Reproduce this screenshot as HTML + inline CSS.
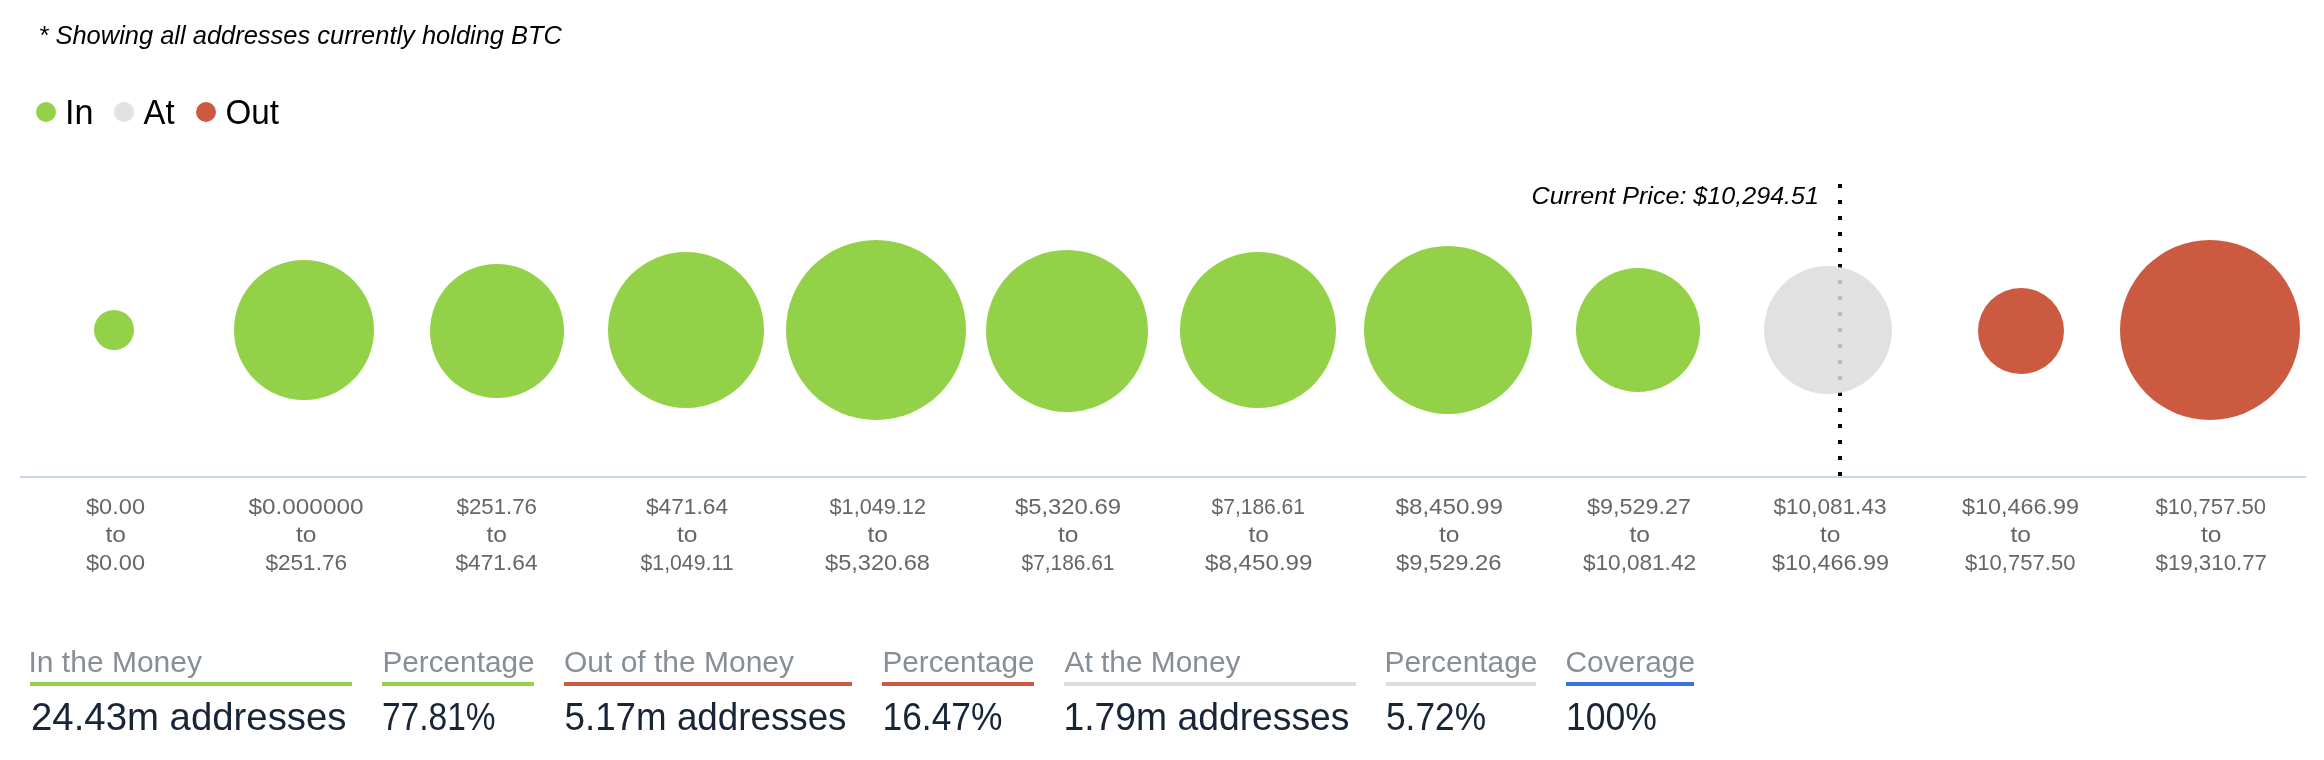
<!DOCTYPE html><html><head><meta charset="utf-8"><title>BTC In/Out of the Money</title><style>html,body{margin:0;padding:0;background:#fff;width:2324px;height:760px;overflow:hidden}svg{display:block;will-change:transform}text{font-family:"Liberation Sans",Arial,sans-serif}</style></head><body>
<svg width="2324" height="760" viewBox="0 0 2324 760">
<circle cx="46" cy="112" r="10" fill="#93d149"/><circle cx="124" cy="112" r="10" fill="#e2e2e2"/><circle cx="206" cy="112" r="10" fill="#cb5a41"/>
<rect x="20" y="476" width="2286" height="2" fill="#ccd6eb"/>
<g fill="#000"><rect x="1838" y="184" width="4" height="4"/><rect x="1838" y="200" width="4" height="4"/><rect x="1838" y="216" width="4" height="4"/><rect x="1838" y="232" width="4" height="4"/><rect x="1838" y="248" width="4" height="4"/><rect x="1838" y="264" width="4" height="4"/><rect x="1838" y="280" width="4" height="4"/><rect x="1838" y="296" width="4" height="4"/><rect x="1838" y="312" width="4" height="4"/><rect x="1838" y="328" width="4" height="4"/><rect x="1838" y="344" width="4" height="4"/><rect x="1838" y="360" width="4" height="4"/><rect x="1838" y="376" width="4" height="4"/><rect x="1838" y="392" width="4" height="4"/><rect x="1838" y="408" width="4" height="4"/><rect x="1838" y="424" width="4" height="4"/><rect x="1838" y="440" width="4" height="4"/><rect x="1838" y="456" width="4" height="4"/><rect x="1838" y="472" width="4" height="4"/></g>
<circle cx="114" cy="330" r="20" fill="#93d149"/>
<circle cx="304" cy="330" r="70" fill="#93d149"/>
<circle cx="497" cy="331" r="67" fill="#93d149"/>
<circle cx="686" cy="330" r="78" fill="#93d149"/>
<circle cx="876" cy="330" r="90" fill="#93d149"/>
<circle cx="1067" cy="331" r="81" fill="#93d149"/>
<circle cx="1258" cy="330" r="78" fill="#93d149"/>
<circle cx="1448" cy="330" r="84" fill="#93d149"/>
<circle cx="1638" cy="330" r="62" fill="#93d149"/>
<circle cx="1828" cy="330" r="64" fill="#dcdcdc" fill-opacity="0.85"/>
<circle cx="2021" cy="331" r="43" fill="#cb5a41"/>
<circle cx="2210" cy="330" r="90" fill="#cb5a41"/>
<rect x="30" y="682" width="322" height="4" fill="#93d149"/>
<rect x="382" y="682" width="152" height="4" fill="#93d149"/>
<rect x="564" y="682" width="288" height="4" fill="#cb5a41"/>
<rect x="882" y="682" width="152" height="4" fill="#cb5a41"/>
<rect x="1064" y="682" width="292" height="4" fill="#dddddd"/>
<rect x="1386" y="682" width="150" height="4" fill="#dddddd"/>
<rect x="1566" y="682" width="128" height="4" fill="#3a72e4"/>
<text x="38.50" y="43.8" font-size="25.7" fill="#000" font-style="italic" textLength="523.50" lengthAdjust="spacingAndGlyphs">* Showing all addresses currently holding BTC</text>
<text x="65.00" y="123.9" font-size="34.3" fill="#000" textLength="28.50" lengthAdjust="spacingAndGlyphs">In</text>
<text x="143.50" y="123.9" font-size="34.3" fill="#000" textLength="31.00" lengthAdjust="spacingAndGlyphs">At</text>
<text x="225.50" y="123.9" font-size="34.3" fill="#000" textLength="53.50" lengthAdjust="spacingAndGlyphs">Out</text>
<text x="1531.50" y="203.7" font-size="24.7" fill="#000" font-style="italic" textLength="287.50" lengthAdjust="spacingAndGlyphs">Current Price: $10,294.51</text>
<text x="86.00" y="514" font-size="22.6" fill="#666666" textLength="59.00" lengthAdjust="spacingAndGlyphs">$0.00</text>
<text x="105.50" y="542" font-size="22.6" fill="#666666" textLength="20.50" lengthAdjust="spacingAndGlyphs">to</text>
<text x="86.00" y="570" font-size="22.6" fill="#666666" textLength="59.00" lengthAdjust="spacingAndGlyphs">$0.00</text>
<text x="248.50" y="514" font-size="22.6" fill="#666666" textLength="115.00" lengthAdjust="spacingAndGlyphs">$0.000000</text>
<text x="296.00" y="542" font-size="22.6" fill="#666666" textLength="20.50" lengthAdjust="spacingAndGlyphs">to</text>
<text x="265.50" y="570" font-size="22.6" fill="#666666" textLength="81.50" lengthAdjust="spacingAndGlyphs">$251.76</text>
<text x="456.50" y="514" font-size="22.6" fill="#666666" textLength="80.50" lengthAdjust="spacingAndGlyphs">$251.76</text>
<text x="486.50" y="542" font-size="22.6" fill="#666666" textLength="20.50" lengthAdjust="spacingAndGlyphs">to</text>
<text x="455.50" y="570" font-size="22.6" fill="#666666" textLength="82.00" lengthAdjust="spacingAndGlyphs">$471.64</text>
<text x="646.00" y="514" font-size="22.6" fill="#666666" textLength="82.00" lengthAdjust="spacingAndGlyphs">$471.64</text>
<text x="677.00" y="542" font-size="22.6" fill="#666666" textLength="20.50" lengthAdjust="spacingAndGlyphs">to</text>
<text x="640.50" y="570" font-size="22.6" fill="#666666" textLength="93.00" lengthAdjust="spacingAndGlyphs">$1,049.11</text>
<text x="829.50" y="514" font-size="22.6" fill="#666666" textLength="96.50" lengthAdjust="spacingAndGlyphs">$1,049.12</text>
<text x="867.50" y="542" font-size="22.6" fill="#666666" textLength="20.50" lengthAdjust="spacingAndGlyphs">to</text>
<text x="825.00" y="570" font-size="22.6" fill="#666666" textLength="105.00" lengthAdjust="spacingAndGlyphs">$5,320.68</text>
<text x="1015.00" y="514" font-size="22.6" fill="#666666" textLength="106.00" lengthAdjust="spacingAndGlyphs">$5,320.69</text>
<text x="1058.00" y="542" font-size="22.6" fill="#666666" textLength="20.50" lengthAdjust="spacingAndGlyphs">to</text>
<text x="1021.50" y="570" font-size="22.6" fill="#666666" textLength="93.00" lengthAdjust="spacingAndGlyphs">$7,186.61</text>
<text x="1211.50" y="514" font-size="22.6" fill="#666666" textLength="93.50" lengthAdjust="spacingAndGlyphs">$7,186.61</text>
<text x="1248.50" y="542" font-size="22.6" fill="#666666" textLength="20.50" lengthAdjust="spacingAndGlyphs">to</text>
<text x="1205.00" y="570" font-size="22.6" fill="#666666" textLength="107.50" lengthAdjust="spacingAndGlyphs">$8,450.99</text>
<text x="1395.50" y="514" font-size="22.6" fill="#666666" textLength="107.50" lengthAdjust="spacingAndGlyphs">$8,450.99</text>
<text x="1439.00" y="542" font-size="22.6" fill="#666666" textLength="20.50" lengthAdjust="spacingAndGlyphs">to</text>
<text x="1396.00" y="570" font-size="22.6" fill="#666666" textLength="105.50" lengthAdjust="spacingAndGlyphs">$9,529.26</text>
<text x="1587.00" y="514" font-size="22.6" fill="#666666" textLength="104.00" lengthAdjust="spacingAndGlyphs">$9,529.27</text>
<text x="1629.50" y="542" font-size="22.6" fill="#666666" textLength="20.50" lengthAdjust="spacingAndGlyphs">to</text>
<text x="1583.00" y="570" font-size="22.6" fill="#666666" textLength="113.00" lengthAdjust="spacingAndGlyphs">$10,081.42</text>
<text x="1773.50" y="514" font-size="22.6" fill="#666666" textLength="113.00" lengthAdjust="spacingAndGlyphs">$10,081.43</text>
<text x="1820.00" y="542" font-size="22.6" fill="#666666" textLength="20.50" lengthAdjust="spacingAndGlyphs">to</text>
<text x="1772.00" y="570" font-size="22.6" fill="#666666" textLength="117.00" lengthAdjust="spacingAndGlyphs">$10,466.99</text>
<text x="1962.00" y="514" font-size="22.6" fill="#666666" textLength="117.00" lengthAdjust="spacingAndGlyphs">$10,466.99</text>
<text x="2010.50" y="542" font-size="22.6" fill="#666666" textLength="20.50" lengthAdjust="spacingAndGlyphs">to</text>
<text x="1965.00" y="570" font-size="22.6" fill="#666666" textLength="110.50" lengthAdjust="spacingAndGlyphs">$10,757.50</text>
<text x="2155.50" y="514" font-size="22.6" fill="#666666" textLength="110.50" lengthAdjust="spacingAndGlyphs">$10,757.50</text>
<text x="2201.00" y="542" font-size="22.6" fill="#666666" textLength="20.50" lengthAdjust="spacingAndGlyphs">to</text>
<text x="2155.50" y="570" font-size="22.6" fill="#666666" textLength="111.50" lengthAdjust="spacingAndGlyphs">$19,310.77</text>
<text x="28.50" y="672.2" font-size="30.1" fill="#868e96" textLength="173.50" lengthAdjust="spacingAndGlyphs">In the Money</text>
<text x="382.50" y="672.2" font-size="30.1" fill="#868e96" textLength="152.00" lengthAdjust="spacingAndGlyphs">Percentage</text>
<text x="564.00" y="672.2" font-size="30.1" fill="#868e96" textLength="230.00" lengthAdjust="spacingAndGlyphs">Out of the Money</text>
<text x="882.50" y="672.2" font-size="30.1" fill="#868e96" textLength="152.00" lengthAdjust="spacingAndGlyphs">Percentage</text>
<text x="1064.50" y="672.2" font-size="30.1" fill="#868e96" textLength="176.00" lengthAdjust="spacingAndGlyphs">At the Money</text>
<text x="1384.50" y="672.2" font-size="30.1" fill="#868e96" textLength="153.00" lengthAdjust="spacingAndGlyphs">Percentage</text>
<text x="1565.50" y="672.2" font-size="30.1" fill="#868e96" textLength="129.50" lengthAdjust="spacingAndGlyphs">Coverage</text>
<text x="31.00" y="730" font-size="39.5" fill="#172537" textLength="315.50" lengthAdjust="spacingAndGlyphs">24.43m addresses</text>
<text x="382.00" y="730" font-size="39.5" fill="#172537" textLength="113.50" lengthAdjust="spacingAndGlyphs">77.81%</text>
<text x="564.50" y="730" font-size="39.5" fill="#172537" textLength="282.00" lengthAdjust="spacingAndGlyphs">5.17m addresses</text>
<text x="882.50" y="730" font-size="39.5" fill="#172537" textLength="120.00" lengthAdjust="spacingAndGlyphs">16.47%</text>
<text x="1063.50" y="730" font-size="39.5" fill="#172537" textLength="286.00" lengthAdjust="spacingAndGlyphs">1.79m addresses</text>
<text x="1386.00" y="730" font-size="39.5" fill="#172537" textLength="100.00" lengthAdjust="spacingAndGlyphs">5.72%</text>
<text x="1566.00" y="730" font-size="39.5" fill="#172537" textLength="91.00" lengthAdjust="spacingAndGlyphs">100%</text>
</svg></body></html>
